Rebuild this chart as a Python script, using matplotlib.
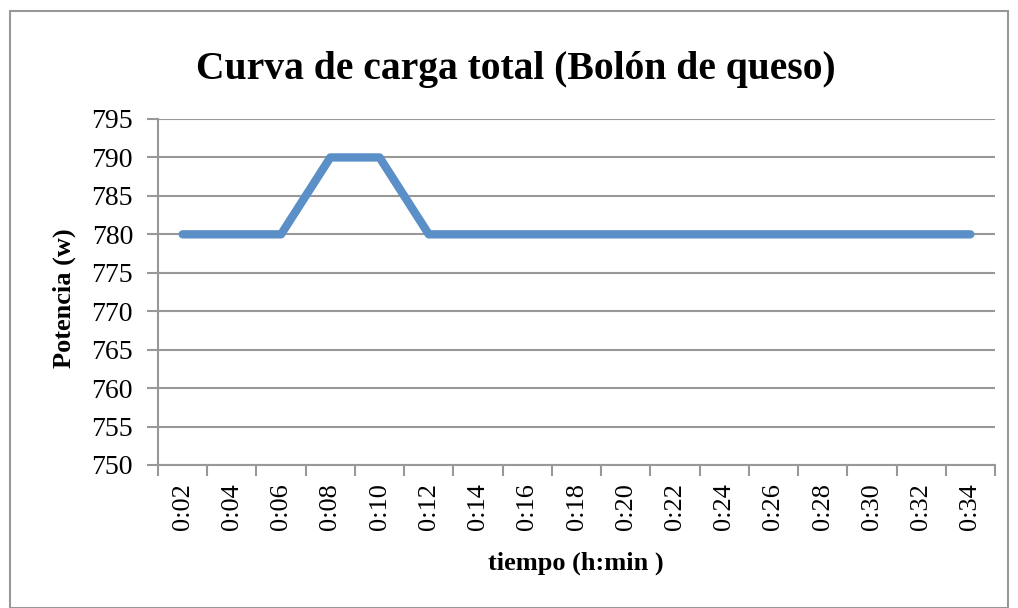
import matplotlib.pyplot as plt
from matplotlib.patches import Rectangle

plt.rcParams['font.family'] = ['Liberation Serif', 'DejaVu Serif']

tiempos = ['0:02', '0:04', '0:06', '0:08', '0:10', '0:12', '0:14', '0:16', '0:18',
           '0:20', '0:22', '0:24', '0:26', '0:28', '0:30', '0:32', '0:34']
potencia = [780, 780, 780, 790, 790, 780, 780, 780, 780,
            780, 780, 780, 780, 780, 780, 780, 780]
yticks = [750, 755, 760, 765, 770, 775, 780, 785, 790, 795]

grey = '#989898'
fig = plt.figure(figsize=(10.18, 6.08), dpi=100)
fig.patches.append(Rectangle((10/1018, 0), 998/1018, 1 - 11/608, transform=fig.transFigure,
                             fill=False, edgecolor=grey, linewidth=1.5))

ax = fig.add_axes([158/1018, 1 - 465/608, (995 - 158)/1018, (465 - 119)/608])
x = list(range(len(tiempos)))
ax.plot(x, potencia, color='#5a8fc7', linewidth=6, solid_capstyle='round',
        solid_joinstyle='round', zorder=3)

ax.set_xlim(-0.5, len(tiempos) - 0.5)
ax.set_ylim(750, 795)
ax.set_yticks(yticks)
ax.set_yticklabels([str(v) for v in yticks], fontsize=20)
ax.set_xticks(x)
ax.set_xticklabels(tiempos, rotation=90, fontsize=19)
ax.tick_params(axis='x', length=0, pad=13)
ax.set_xticks([i - 0.5 for i in range(len(tiempos) + 1)], minor=True)
ax.tick_params(axis='x', which='minor', length=8, color=grey, width=1.5)
ax.tick_params(axis='y', length=8, color=grey, width=1.5, pad=10)
ax.grid(axis='y', color=grey, linewidth=1.5)
for s in ['top', 'right']:
    ax.spines[s].set_visible(False)
for s in ['left', 'bottom']:
    ax.spines[s].set_color(grey)
    ax.spines[s].set_linewidth(1.5)

fig.text(516/1018, 1 - 70/608, 'Curva de carga total (Bolón de queso)',
         fontsize=28.5, fontweight='bold', ha='center', va='center')
fig.text(64/1018, 1 - 298/608, 'Potencia (w)', rotation=90, fontsize=19,
         fontweight='bold', ha='center', va='center')
fig.text(576/1018, 1 - 563/608, 'tiempo (h:min )', fontsize=19,
         fontweight='bold', ha='center', va='center')

fig.savefig('out.png', dpi=100)
